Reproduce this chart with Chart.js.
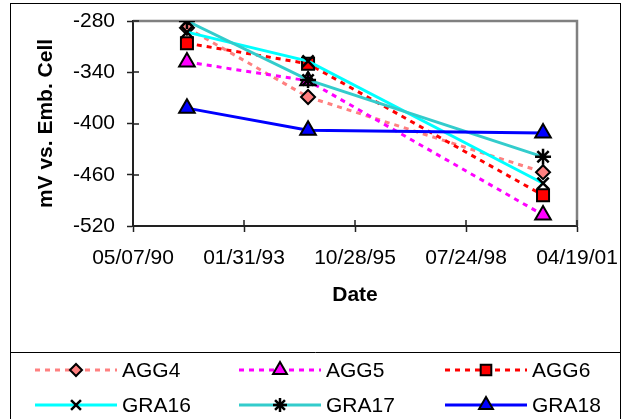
<!DOCTYPE html>
<html>
<head>
<meta charset="utf-8">
<script src="https://cdn.jsdelivr.net/npm/chart.js@4/dist/chart.umd.min.js"></script>
<style>
  body { margin: 0; background: #fff; }
</style>
</head>
<body>
<canvas id="electrodeChart" width="624" height="419"></canvas>
<script>
// sampling dates and readings (mV vs. embedded reference cell)
const sampleDates = ['1991-09-05', '1994-08-31', '2000-06-17'];
const agg4 = [-288, -369, -457];
const agg5 = [-328, -350, -507];
const agg6 = [-306, -330, -484];
const gra16 = [-293, -327, -470];
const gra17 = [-280, -349, -439];
const gra18 = [-382, -408, -411];
const seriesNames = ['AGG4', 'AGG5', 'AGG6', 'GRA16', 'GRA17', 'GRA18'];
const xTickLabels = ['05/07/90', '01/31/93', '10/28/95', '07/24/98', '04/19/01'];
const yTicks = [-520, -460, -400, -340, -280];

const FONT = 'Liberation Sans, Arial, sans-serif';

// Excel style day serials so the axis steps match the original 1000 day spacing
function isoToSerial(s) {
    const [y, m, d] = s.split('-').map(Number);
    return Date.UTC(y, m - 1, d) / 86400000 + 25569;
}
function labelToSerial(s) {
    const [m, d, yy] = s.split('/').map(Number);
    const y = yy < 50 ? 2000 + yy : 1900 + yy;
    return Date.UTC(y, m - 1, d) / 86400000 + 25569;
}

const xMin = labelToSerial(xTickLabels[0]);
const xMax = labelToSerial(xTickLabels[xTickLabels.length - 1]);

function points(values) {
    return values.map((v, i) => ({ x: isoToSerial(sampleDates[i]), y: v }));
}

const styles = [
    { color: '#FF8080', dash: [5, 5], point: 'rectRot', fill: '#FF8080', r: 7, bw: 2 },
    { color: '#FF00FF', dash: [5, 5], point: 'triangle', fill: '#FF00FF', r: 9, bw: 2 },
    { color: '#FF0000', dash: [5, 5], point: 'rect', fill: '#FF0000', r: 8.5, bw: 2 },
    { color: '#00FFFF', dash: [], point: 'crossRot', fill: '#000', r: 8, bw: 2.5 },
    { color: '#33CCCC', dash: [], point: 'star', fill: '#000', r: 8, bw: 2.5 },
    { color: '#0000FF', dash: [], point: 'triangle', fill: '#0000FF', r: 9, bw: 2 }
];
const seriesValues = [agg4, agg5, agg6, gra16, gra17, gra18];

const datasets = seriesValues.map((vals, i) => ({
    label: seriesNames[i],
    data: points(vals),
    borderColor: styles[i].color,
    borderDash: styles[i].dash,
    borderWidth: 3,
    pointStyle: styles[i].point,
    pointRadius: styles[i].r,
    pointBackgroundColor: styles[i].fill,
    pointBorderColor: '#000',
    pointBorderWidth: styles[i].bw,
    tension: 0,
    fill: false,
    order: seriesValues.length - i
}));

const framePlugin = {
    id: 'frame',
    beforeDatasetsDraw(chart) {
        const ctx = chart.ctx;
        const a = chart.chartArea;
        ctx.save();
        ctx.strokeStyle = '#808080';
        ctx.lineWidth = 2.5;
        ctx.beginPath();
        ctx.moveTo(a.left, a.top);
        ctx.lineTo(a.right, a.top);
        ctx.lineTo(a.right, a.bottom);
        ctx.stroke();
        // tick marks cross the axes, draw the inner half
        ctx.strokeStyle = '#222';
        ctx.lineWidth = 1.5;
        const xs = chart.scales.x, ys = chart.scales.y;
        ctx.beginPath();
        xs.ticks.forEach((t, i) => {
            const px = Math.round(xs.getPixelForTick(i));
            ctx.moveTo(px, a.bottom);
            ctx.lineTo(px, a.bottom - 6);
        });
        ys.ticks.forEach((t, i) => {
            const py = Math.round(ys.getPixelForTick(i));
            ctx.moveTo(a.left, py);
            ctx.lineTo(a.left + 6, py);
        });
        ctx.stroke();
        ctx.restore();
    },
    afterDraw(chart) {
        const ctx = chart.ctx;
        ctx.save();
        ctx.strokeStyle = '#000';
        ctx.lineWidth = 1;
        ctx.strokeRect(10.5, 3.5, 610, 440);
        ctx.beginPath();
        ctx.moveTo(10, 352.5);
        ctx.lineTo(621, 352.5);
        ctx.stroke();

        // legend box, 3 columns x 2 rows
        const cols = [35, 239, 445];
        const rows = [370, 405];
        const lineLen = 82;
        chart.data.datasets.forEach((ds, i) => {
            const x0 = cols[i % 3];
            const y0 = rows[Math.floor(i / 3)];
            ctx.save();
            ctx.strokeStyle = ds.borderColor;
            ctx.lineWidth = ds.borderWidth;
            ctx.setLineDash(ds.borderDash);
            ctx.beginPath();
            ctx.moveTo(x0, y0);
            ctx.lineTo(x0 + lineLen, y0);
            ctx.stroke();
            ctx.setLineDash([]);
            ctx.fillStyle = ds.pointBackgroundColor;
            ctx.strokeStyle = ds.pointBorderColor;
            ctx.lineWidth = ds.pointBorderWidth;
            Chart.helpers.drawPoint(ctx, {
                pointStyle: ds.pointStyle,
                radius: ds.pointRadius - 1,
                rotation: 0,
                borderWidth: ds.pointBorderWidth
            }, x0 + lineLen / 2, y0);
            ctx.fillStyle = '#000';
            ctx.font = '21px ' + FONT;
            ctx.textAlign = 'left';
            ctx.textBaseline = 'middle';
            ctx.fillText(ds.label, x0 + lineLen + 5, y0 + 1);
            ctx.restore();
        });
        ctx.restore();
    }
};

new Chart(document.getElementById('electrodeChart'), {
    type: 'line',
    data: { datasets },
    plugins: [framePlugin],
    options: {
        responsive: false,
        animation: false,
        devicePixelRatio: 1,
        events: [],
        layout: {
            padding: { left: 28, right: 47, top: 21, bottom: 107 }
        },
        scales: {
            x: {
                type: 'linear',
                min: xMin,
                max: xMax,
                afterBuildTicks(scale) {
                    scale.ticks = xTickLabels.map(l => ({ value: labelToSerial(l) }));
                },
                afterFit(scale) {
                    scale.height = 86;
                    scale.paddingLeft = 0;
                    scale.paddingRight = 0;
                },
                ticks: {
                    autoSkip: false,
                    maxRotation: 0,
                    padding: 14,
                    color: '#000',
                    font: { family: FONT, size: 21 },
                    callback: (v, i) => xTickLabels[i]
                },
                grid: { drawOnChartArea: false, tickLength: 6, tickColor: '#222', tickWidth: 1.5 },
                border: { color: '#222', width: 2 },
                title: {
                    display: true,
                    text: 'Date',
                    color: '#000',
                    font: { family: FONT, size: 21, weight: 'bold' },
                    padding: { top: 0, bottom: 4 }
                }
            },
            y: {
                min: yTicks[0],
                max: yTicks[yTicks.length - 1],
                afterBuildTicks(scale) {
                    scale.ticks = yTicks.map(v => ({ value: v }));
                },
                afterFit(scale) {
                    scale.width = 105;
                    scale.paddingTop = 0;
                    scale.paddingBottom = 0;
                },
                ticks: {
                    padding: 12,
                    color: '#000',
                    font: { family: FONT, size: 21 }
                },
                grid: { drawOnChartArea: false, tickLength: 6, tickColor: '#222', tickWidth: 1.5 },
                border: { color: '#222', width: 2 },
                title: {
                    display: true,
                    text: 'mV vs. Emb. Cell',
                    color: '#000',
                    font: { family: FONT, size: 21, weight: 'bold' },
                    padding: { top: 6, bottom: 0 }
                }
            }
        },
        plugins: {
            legend: { display: false },
            tooltip: { enabled: false }
        }
    }
});
</script>
</body>
</html>
